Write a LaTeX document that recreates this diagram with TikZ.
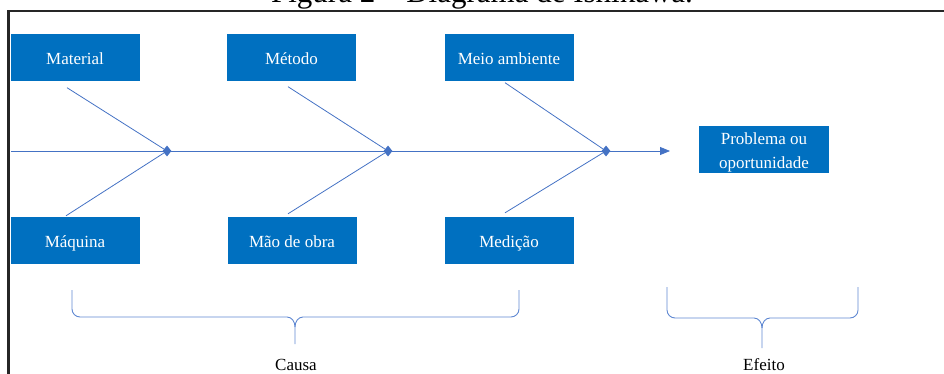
\documentclass[tikz,border=0pt]{standalone}
\usepackage{fontspec}
\setmainfont{Liberation Serif}
\usetikzlibrary{arrows.meta,shapes.geometric}
\definecolor{caixa}{HTML}{0070C0}
\definecolor{linha}{HTML}{4472C4}
\definecolor{chave}{HTML}{5F88D2}

\begin{document}
\begin{tikzpicture}[x=1pt,y=-1pt,
    causa/.style={fill=caixa,text=white,minimum width=129pt,minimum height=47pt,inner sep=0pt,
        text height=15pt,text depth=1pt,font=\fontsize{17}{24}\selectfont},
    junta/.style={diamond,fill=linha,inner sep=0pt,minimum width=9pt,minimum height=11pt},
    osso/.style={draw=linha,line width=0.8pt},
    chaveta/.style={draw=chave,line width=0.9pt},
    rotulo/.style={font=\fontsize{17}{20}\selectfont}]
        \useasboundingbox (0,0) rectangle (944,374);

        % moldura e titulo da pagina
        \node[anchor=base,font=\fontsize{31}{36}\selectfont] (titulo) at (482,3) {Figura 2 -- Diagrama de Ishikawa.};
        \draw[line width=2.4pt,black!85] (8.5,380) -- (8.5,11.3) -- (950,11.3);

        % causas
        \node[causa] (material) at (75,58) {Material};
        \node[causa] (metodo) at (291.5,58) {Método};
        \node[causa] (meio) at (509,58) {Meio ambiente};
        \node[causa] (maquina) at (75,240.5) {Máquina};
        \node[causa] (maoobra) at (292,240.5) {Mão de obra};
        \node[causa] (medicao) at (509,240.5) {Medição};

        % efeito
        \node[causa,minimum width=130pt,align=center,text height=38pt,text depth=1pt] (problema)
            at (764,149.5) {Problema ou\\oportunidade};

        % espinha
        \coordinate (cauda) at (11,151);
        \coordinate (cabeca) at (670,151);
        \draw[osso,-{Triangle[length=10pt,width=8pt]}] (cauda) -- (cabeca);

        \node[junta] (j1) at (167,151) {};
        \node[junta] (j2) at (388,151) {};
        \node[junta] (j3) at (606,151) {};

        \draw[osso] ([shift={(-8,6)}]material.south) -- (j1);
        \draw[osso] ([shift={(-9,-1)}]maquina.north) -- (j1);
        \draw[osso] ([shift={(-3.5,5)}]metodo.south) -- (j2);
        \draw[osso] ([shift={(-4,-3)}]maoobra.north) -- (j2);
        \draw[osso] ([shift={(-4,1)}]meio.south) -- (j3);
        \draw[osso] ([shift={(-4,-4)}]medicao.north) -- (j3);

        % chavetas
        \draw[chaveta] (72,290) -- (72,309) to[out=-90,in=180] (80,317) -- (287,317)
            to[out=0,in=90] (295,327) -- (295,344);
        \draw[chaveta] (295,327) to[out=90,in=180] (303,317) -- (511,317)
            to[out=0,in=-90] (519,309) -- (519,290);
        \node[rotulo] (causa) at (296,365) {Causa};

        \draw[chaveta] (667,287) -- (667,310) to[out=-90,in=180] (675,318) -- (754,318)
            to[out=0,in=90] (762,328) -- (762,348);
        \draw[chaveta] (762,328) to[out=90,in=180] (770,318) -- (850,318)
            to[out=0,in=-90] (858,310) -- (858,287);
        \node[rotulo] (efeito) at (764,365) {Efeito};
    \end{tikzpicture}
\end{document}
